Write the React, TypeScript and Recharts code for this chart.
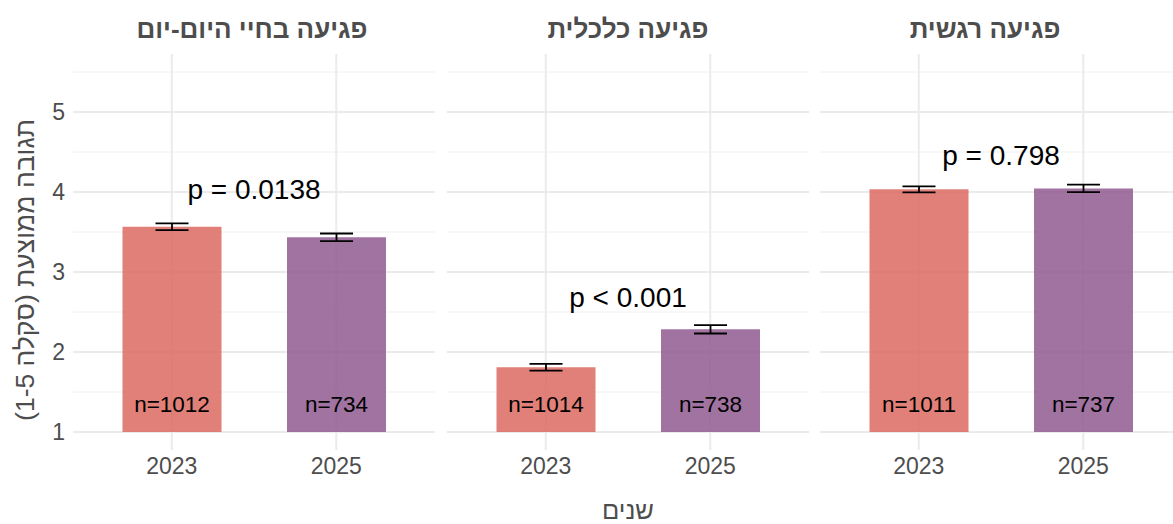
import { BarChart, Bar, Cell, XAxis, YAxis, CartesianGrid, ErrorBar, LabelList, ReferenceLine } from 'recharts'

// facets, left to right as drawn
const facets = ['פגיעה בחיי היום-יום', 'פגיעה כלכלית', 'פגיעה רגשית']
const years = ['2023', '2025']

// mean response (scale 1-5), standard error and sample size, per facet
const mean2023 = [3.566, 1.809, 4.033]
const mean2025 = [3.433, 2.283, 4.045]
const se2023 = [0.042, 0.042, 0.038]
const se2025 = [0.048, 0.052, 0.046]
const n2023 = [1012, 1014, 1011]
const n2025 = [734, 738, 737]

// t-test annotations and the height (in scale units) they sit at
const pLabels = ['p = 0.0138', 'p < 0.001', 'p = 0.798']
const pLabelAt = [4.04, 2.69, 4.46]

const yTicks = [1, 2, 3, 4, 5]
const yMinor = [1.5, 2.5, 3.5, 4.5, 5.5]
const Y_BASE = 1
const Y_DOMAIN: [number, number] = [0.775, 5.725]

const yearColors = ['#da6a62', '#905b90']

const FONT = '"Liberation Sans", Arial, sans-serif'
const GREY = '#4d4d4d'
const PANEL_W = 362
const panelLeft = [0, 447, 820]
const titleNudge = [-2, 0, -16]

function facetData(i: number) {
  const means = [mean2023[i], mean2025[i]]
  const ses = [se2023[i], se2025[i]]
  const ns = [n2023[i], n2025[i]]
  return years.map((year, j) => ({
    year,
    range: [Y_BASE, means[j]],
    se: ses[j],
    n: ns[j],
  }))
}

function NLabel(props: any) {
  const { x, y, width, height, value } = props
  return (
    <text x={x + width / 2} y={y + height - 20} textAnchor="middle" fontSize={22.5} fill="#000">
      n={value}
    </text>
  )
}

function Facet({ index }: { index: number }) {
  const withAxis = index === 0
  const data = facetData(index)
  return (
    <BarChart
      width={PANEL_W + (withAxis ? 73 : 0)}
      height={524}
      data={data}
      margin={{ top: 54, right: 0, bottom: 34, left: 0 }}
    >
      <CartesianGrid horizontalValues={yMinor} vertical={false} stroke="#f0f0f0" strokeWidth={1} />
      <CartesianGrid horizontalValues={yTicks} verticalValues={years} stroke="#ebebeb" strokeWidth={2} />
      <XAxis
        dataKey="year"
        padding={{ left: 16.5, right: 16.5 }}
        axisLine={false}
        tickLine={false}
        tickSize={0}
        tickMargin={8}
        height={40}
        interval={0}
        tick={{ fill: GREY, fontSize: 23 }}
      />
      <YAxis
        type="number"
        domain={Y_DOMAIN}
        ticks={yTicks}
        allowDataOverflow
        hide={!withAxis}
        width={withAxis ? 73 : 0}
        axisLine={false}
        tickLine={false}
        tickSize={0}
        tickMargin={8}
        tick={{ fill: GREY, fontSize: 23 }}
      />
      <Bar dataKey="range" barSize={99} fillOpacity={0.85} isAnimationActive={false}>
        {data.map((d, j) => (
          <Cell key={d.year} fill={yearColors[j]} />
        ))}
        <ErrorBar dataKey="se" width={16.5} stroke="#000" strokeWidth={1.8} direction="y" />
        <LabelList dataKey="n" content={NLabel} />
      </Bar>
      <ReferenceLine
        y={pLabelAt[index]}
        stroke="none"
        ifOverflow="visible"
        label={{ value: pLabels[index], position: 'center', fontSize: 28, fill: '#000' }}
      />
    </BarChart>
  )
}

export default function App() {
  return (
    <div style={{
      position: 'fixed', left: 0, top: 0, width: 1173, height: 524,
      overflow: 'hidden', background: '#fff', fontFamily: FONT,
    }}>
      {facets.map((_, i) => (
        <div key={i} style={{ position: 'absolute', left: panelLeft[i], top: 0 }}>
          <Facet index={i} />
        </div>
      ))}
      <svg width={1173} height={524} style={{ position: 'absolute', left: 0, top: 0, pointerEvents: 'none' }}>
        {facets.map((f, i) => (
          <text
            key={f}
            x={panelLeft[i] + (i === 0 ? 73 : 0) + PANEL_W / 2 + titleNudge[i]}
            y={38}
            textAnchor="middle"
            fontSize={26}
            fontWeight="bold"
            fill={GREY}
          >
            {f}
          </text>
        ))}
        <text
          transform="translate(25, 270) rotate(-90)"
          textAnchor="middle"
          dominantBaseline="central"
          direction="rtl"
          fontSize={26.5}
          fill={GREY}
        >
          תגובה ממוצעת (סקלה 1-5)
        </text>
        <text x={628} y={519} textAnchor="middle" fontSize={25.5} fill={GREY}>
          שנים
        </text>
      </svg>
    </div>
  )
}
